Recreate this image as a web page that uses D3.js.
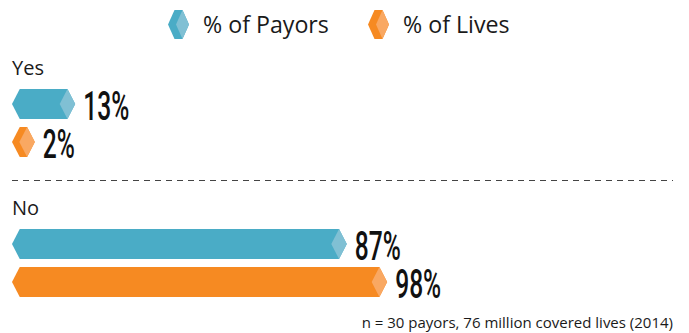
<!DOCTYPE html>
<html>
<head>
<meta charset="utf-8">
<script src="https://cdn.jsdelivr.net/npm/d3@7/dist/d3.min.js"></script>
<style>
  html, body { margin: 0; padding: 0; background: #ffffff; }
  svg { display: block; }
</style>
</head>
<body>
<svg id="chart" width="689" height="333"></svg>
<script>
// Survey answers and the two measures shown for each
const categories = ["Yes", "No"];
const seriesNames = ["% of Payors", "% of Lives"];
const payorValues = [13, 87];
const livesValues = [2, 98];
const footnote = "n = 30 payors, 76 million covered lives (2014)";

const colors = {
  "% of Payors": { dark: "#4aacc6", light: "#80c0d4" },
  "% of Lives":  { dark: "#f68a22", light: "#f9a862" }
};

const svg = d3.select("#chart");

// Horizontal extent of a bar body; the pointed ends are added around it
const x = d3.scaleLinear().domain([0, 100]).range([0, 367]);
const left = 12;        // left tip of every bar
const slant = 7.75;     // depth of the pointed ends
const barH = 30;

// Group placement (one band per answer)
const groupY = d3.scaleOrdinal().domain(categories).range([60, 200]);
const rowOffset = d3.scaleOrdinal().domain(seriesNames).range([29, 67]);

function hexPath(x0, bodyLen, y, h, s) {
  const p = d3.path();
  p.moveTo(x0, y + h / 2);
  p.lineTo(x0 + s, y);
  p.lineTo(x0 + s + bodyLen, y);
  p.lineTo(x0 + 2 * s + bodyLen, y + h / 2);
  p.lineTo(x0 + s + bodyLen, y + h);
  p.lineTo(x0 + s, y + h);
  p.closePath();
  return p.toString();
}
function tipPath(x0, bodyLen, y, h, s) {
  const p = d3.path();
  p.moveTo(x0 + s + bodyLen, y);
  p.lineTo(x0 + 2 * s + bodyLen, y + h / 2);
  p.lineTo(x0 + s + bodyLen, y + h);
  p.lineTo(x0 + bodyLen, y + h / 2);
  p.closePath();
  return p.toString();
}

// Legend
const legendItems = [
  { name: "% of Payors", ix: 168, tx: 203 },
  { name: "% of Lives",  ix: 368, tx: 403 }
];
const legend = svg.append("g").attr("class", "legend");
legendItems.forEach(d => {
  const g = legend.append("g");
  g.append("path").attr("d", hexPath(d.ix, 8, 10, 29, 6.5)).attr("fill", colors[d.name].dark);
  g.append("path").attr("d", tipPath(d.ix, 8, 10, 29, 6.5)).attr("fill", colors[d.name].light);
  g.append("text")
    .attr("x", d.tx).attr("y", 33)
    .attr("font-family", "'Open Sans', 'Noto Sans', sans-serif")
    .attr("font-size", 23.2)
    .attr("fill", "#1a1a1a")
    .text(d.name);
});

// Rows
const rows = categories.map((c, i) => ({
  category: c,
  bars: [
    { series: "% of Payors", value: payorValues[i] },
    { series: "% of Lives",  value: livesValues[i] }
  ]
}));

const group = svg.selectAll("g.group").data(rows).join("g").attr("class", "group");

group.append("text")
  .attr("x", 12)
  .attr("y", d => groupY(d.category) + 15)
  .attr("font-family", "'Open Sans', 'Noto Sans', sans-serif")
  .attr("font-size", 20)
  .attr("fill", "#1a1a1a")
  .text(d => d.category);

const bar = group.selectAll("g.bar").data(d => d.bars.map(b => ({ ...b, category: d.category })))
  .join("g").attr("class", "bar");

bar.append("path")
  .attr("d", d => hexPath(left, x(d.value), groupY(d.category) + rowOffset(d.series), barH, slant))
  .attr("fill", d => colors[d.series].dark);
bar.append("path")
  .attr("d", d => tipPath(left, x(d.value), groupY(d.category) + rowOffset(d.series), barH, slant))
  .attr("fill", d => colors[d.series].light);

// Value labels in a tall, condensed face
bar.append("text")
  .attr("transform", d => {
    const tx = left + 2 * slant + x(d.value) + 8;
    const ty = groupY(d.category) + rowOffset(d.series) + barH + 1;
    return `translate(${tx},${ty}) scale(0.6,1)`;
  })
  .attr("font-family", "Roboto, 'Liberation Sans', sans-serif")
  .attr("font-weight", 500)
  .attr("font-size", 41)
  .attr("fill", "#111")
  .text(d => d.value + "%");

// Divider between the two answers
svg.append("line")
  .attr("x1", 12).attr("x2", 673)
  .attr("y1", 180.5).attr("y2", 180.5)
  .attr("stroke", "#444")
  .attr("stroke-width", 1.2)
  .attr("stroke-dasharray", "6,5");

// Sample note
svg.append("text")
  .attr("x", 673).attr("y", 328)
  .attr("text-anchor", "end")
  .attr("font-family", "'Open Sans', 'Noto Sans', sans-serif")
  .attr("font-size", 15)
  .attr("fill", "#1a1a1a")
  .text(footnote);
</script>
</body>
</html>
